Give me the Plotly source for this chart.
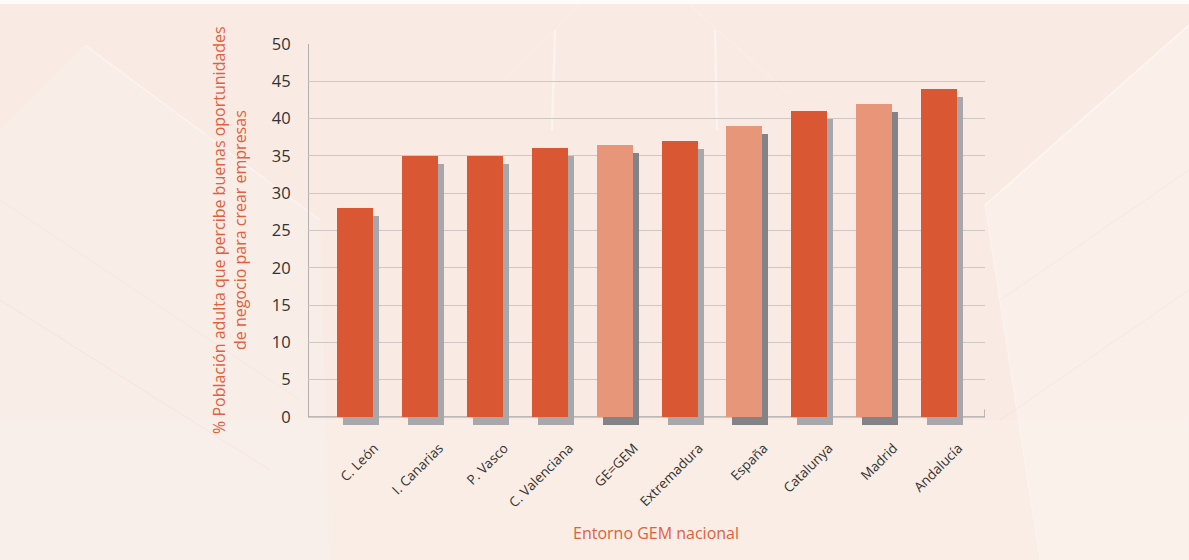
import plotly.graph_objects as go

# Regional entrepreneurial-opportunity perception (GEM)
regions = ["C. León", "I. Canarias", "P. Vasco", "C. Valenciana", "GE=GEM",
           "Extremadura", "España", "Catalunya", "Madrid", "Andalucía"]
values = [28, 35, 35, 36, 36.5, 37, 39, 41, 42, 44]
# aggregate (benchmark) rows are highlighted in a lighter tone
benchmark = [False, False, False, False, True, False, True, False, True, False]
y_ticks = [0, 5, 10, 15, 20, 25, 30, 35, 40, 45, 50]

DARK = "#d95732"
LIGHT = "#e8967a"
SHADOW_DARK = "#a8a8ac"
SHADOW_LIGHT = "#838387"
BG = "#f9ebe3"
ORANGE = "#e2603b"

W, H = 1189, 560
L, R, T, B = 308, 985, 44, 429
px_per_unit_x = 64.9
px_per_unit_y = (417 - 44) / 50.0

xs = list(range(len(regions)))
bar_w = 36 / px_per_unit_x
shift_x = 6 / px_per_unit_x
drop_y = 8 / px_per_unit_y


def px(x):
    return (x - L) / (R - L)


def py(y):
    return (B - y) / (B - T)


fig = go.Figure()

# drop shadow behind each bar, offset right and down
fig.add_trace(go.Bar(
    x=[x + shift_x for x in xs], y=values, base=[-drop_y] * len(values),
    width=bar_w,
    marker=dict(color=[SHADOW_LIGHT if b else SHADOW_DARK for b in benchmark], line=dict(width=0)),
    hoverinfo="skip", showlegend=False,
))
fig.add_trace(go.Bar(
    x=xs, y=values, width=bar_w,
    marker=dict(color=[LIGHT if b else DARK for b in benchmark], line=dict(width=0)),
    showlegend=False,
))

x_lo = (L - 355) / px_per_unit_x
x_hi = (R - 355) / px_per_unit_x
y_lo = -(B - 417) / px_per_unit_y


def poly(points, fill):
    path = "M " + " L ".join(f"{px(a):.4f},{py(b):.4f}" for a, b in points) + " Z"
    return dict(type="path", xref="paper", yref="paper", path=path,
                fillcolor=fill, line=dict(width=0), layer="below")


def streak(a, b, c, d, color, w):
    return dict(type="line", xref="paper", yref="paper", x0=px(a), y0=py(b), x1=px(c), y1=py(d),
                line=dict(color=color, width=w), layer="below")


shapes = [
    # soft lighter planes of the backdrop
    poly([(0, 0), (W, 0), (W, 4), (0, 4)], "rgba(255,255,255,0.85)"),
    poly([(85, 45), (320, 220), (330, 560), (0, 560), (0, 130)], "rgba(255,255,255,0.14)"),
    poly([(W, 25), (985, 205), (1040, 560), (W, 560)], "rgba(255,255,255,0.22)"),
    poly([(0, 420), (1189, 420), (1189, 560), (0, 560)], "rgba(255,255,255,0.12)"),
    # thin light streaks
    streak(85, 45, 320, 220, "rgba(255,255,255,0.45)", 1.2),
    streak(W, 25, 985, 205, "rgba(255,255,255,0.55)", 1.5),
    streak(985, 205, 1040, 560, "rgba(255,255,255,0.3)", 1.2),
    streak(555, 30, 552, 130, "rgba(255,255,255,0.4)", 2.5),
    streak(715, 30, 717, 130, "rgba(255,255,255,0.4)", 2.5),
    streak(505, 80, 580, 5, "rgba(255,255,255,0.25)", 1),
    streak(690, 5, 790, 95, "rgba(255,255,255,0.25)", 1),
    streak(0, 300, 270, 470, "rgba(235,205,190,0.25)", 1),
    streak(0, 200, 300, 400, "rgba(235,205,190,0.2)", 1),
    streak(1000, 300, 1189, 170, "rgba(235,205,190,0.2)", 1),
    streak(1000, 420, 1189, 290, "rgba(235,205,190,0.2)", 1),
]
# left axis line, base line and the small end tick
shapes.append(dict(type="line", xref="x", yref="y", x0=x_lo, x1=x_lo, y0=0, y1=50,
                   line=dict(color="#9c9a9a", width=1.5), layer="below"))
shapes.append(dict(type="line", xref="x", yref="y", x0=x_lo, x1=x_hi, y0=0, y1=0,
                   line=dict(color="#a9a7a7", width=1.5), layer="below"))
shapes.append(dict(type="line", xref="x", yref="y", x0=x_hi, x1=x_hi, y0=0, y1=1.0,
                   line=dict(color="#a9a7a7", width=1.5), layer="below"))

fig.update_layout(
    width=W, height=H,
    margin=dict(l=L, r=W - R, t=T, b=H - B, pad=0),
    paper_bgcolor=BG, plot_bgcolor="rgba(0,0,0,0)",
    barmode="overlay", bargap=0,
    font=dict(family="Open Sans, sans-serif", color="#333333"),
    shapes=shapes,
    xaxis=dict(
        range=[x_lo, x_hi], showgrid=False, zeroline=False, showline=False,
        tickvals=[x + 0.3 for x in xs], ticktext=regions, tickangle=-45,
        ticks="outside", ticklen=5, tickcolor="rgba(0,0,0,0)",
        tickfont=dict(size=13.5, color="#333333"),
    ),
    yaxis=dict(
        range=[y_lo, 50], tickvals=y_ticks, showgrid=True, gridcolor="#cdc8c5", gridwidth=1.2,
        zeroline=False, showline=False, ticks="outside", ticklen=13, tickcolor="rgba(0,0,0,0)",
        tickfont=dict(size=16.5, color="#333333"),
    ),
    annotations=[
        dict(text="% Población adulta que percibe buenas oportunidades<br>de negocio para crear empresas",
             xref="paper", yref="paper", x=px(229), y=py(230),
             textangle=-90, showarrow=False, xanchor="center", yanchor="middle",
             font=dict(size=16, color=ORANGE)),
        dict(text="Entorno GEM nacional", xref="paper", yref="paper",
             x=px(656), y=py(533), showarrow=False,
             xanchor="center", yanchor="middle", font=dict(size=16, color=ORANGE)),
    ],
)

fig.write_html("out.html")
